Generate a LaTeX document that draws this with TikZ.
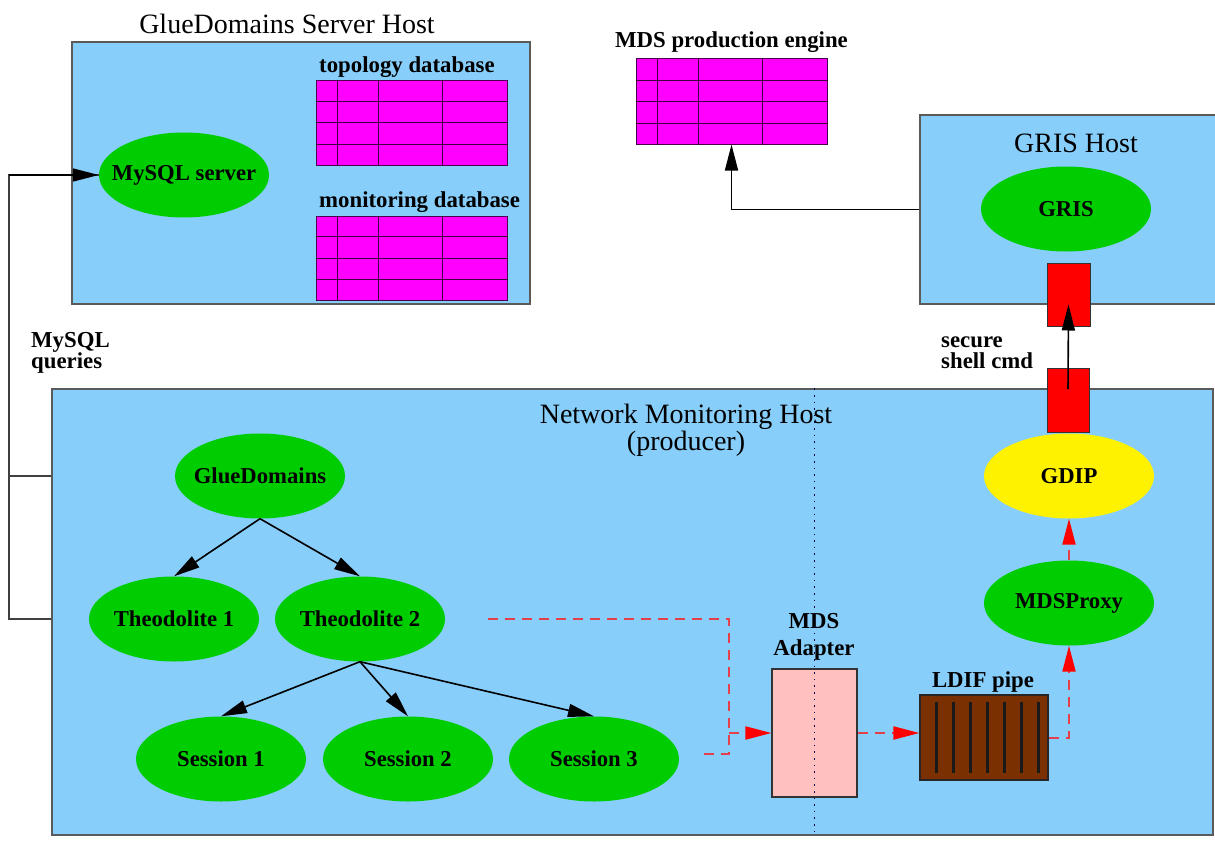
\documentclass[tikz,border=0pt]{standalone}
\usepackage{fontspec}
\setmainfont{Liberation Serif}
\usetikzlibrary{shapes.geometric,arrows.meta,calc}

\definecolor{hostblue}{RGB}{135,206,250}
\definecolor{procgreen}{RGB}{0,205,0}
\definecolor{tablemag}{RGB}{255,0,255}
\definecolor{adaptpink}{RGB}{255,192,192}
\definecolor{pipebrown}{RGB}{122,48,0}
\definecolor{edgegray}{RGB}{90,90,90}
\definecolor{flowred}{RGB}{228,64,76}

% process labels are centred in a zero-width box so every ellipse keeps the same size
\newcommand\proclabel[1]{\makebox[0pt][c]{#1}}

\tikzset{
  host/.style={draw=edgegray, line width=1.2pt, fill=hostblue, rectangle, inner sep=0},
  proc/.style={ellipse, fill=procgreen, minimum width=170, minimum height=85, inner sep=0,
               font=\fontsize{22.7}{22}\selectfont\bfseries},
  dbtab/.style={rectangle, draw=black!70!tablemag, line width=1pt, fill=tablemag,
                minimum width=191, minimum height=85, inner sep=0},
  gridline/.style={draw=black!75!tablemag, line width=1pt},
  hosttitle/.style={font=\fontsize{28}{27}\selectfont, inner sep=0},
  lbl/.style={font=\fontsize{22.8}{21}\selectfont\bfseries, inner sep=0},
  plug/.style={rectangle, fill=red, draw=black!80, line width=1pt, inner sep=0},
  wire/.style={draw=black!75, line width=1.5pt},
  arr/.style={draw=black, line width=1.6pt, -{Triangle[length=26pt,width=13pt]}},
  flow/.style={draw=flowred, line width=2pt, dash pattern=on 10pt off 7pt},
  flowarr/.style={flow, -{Triangle[length=26pt,width=13pt,color=red]}},
  divider/.style={draw=black!70!blue, line width=1.5pt, dash pattern=on 1.6pt off 5pt},
}

\begin{document}
\begin{tikzpicture}[x=1pt,y=-1pt]
\useasboundingbox (0,0) rectangle (1215,843);

% ---------------- GlueDomains server host ----------------
\node[host, minimum width=458, minimum height=262] (gshost) at (301,173) {};
\node[hosttitle] (gstitle) at (287,24) {GlueDomains Server Host};
\node[proc] (mysql) at (184,175) {\proclabel{MySQL server}};

\node[lbl, anchor=base west] (topolbl) at (319,72) {topology database};
\node[dbtab] (topo) at (411.5,122.5) {};
\node[lbl, anchor=base west] (monilbl) at (319,207) {monitoring database};
\node[dbtab, minimum height=84] (moni) at (411.5,258) {};

% ---------------- MDS production engine ----------------
\node[lbl, anchor=base west] (mdslbl) at (615,48) {MDS production engine};
\node[dbtab] (mds) at (731.5,101.5) {};

% table grids
\foreach \t in {topo,moni,mds}{
  \foreach \c in {22,63,127}
    \draw[gridline] ([xshift=\c]\t.north west) -- ([xshift=\c]\t.south west);
  \foreach \r in {0.25,0.5,0.75}
    \draw[gridline] ($(\t.north west)!\r!(\t.south west)$) -- ($(\t.north east)!\r!(\t.south east)$);
}

% ---------------- GRIS host ----------------
\node[host, minimum width=310, minimum height=189] (grishost) at (1075,209.5) {};
\node[hosttitle, anchor=base] (gristitle) at (1076,152) {GRIS Host};
\node[proc] (gris) at (1066,209) {\proclabel{GRIS}};

% ---------------- Network monitoring host ----------------
\node[host, minimum width=1161, minimum height=446] (nmhost) at (632.5,612) {};
\node[hosttitle, align=center, anchor=base] (nmtitle) at (686,450) {Network Monitoring Host\\(producer)};

\node[proc] (gd) at (260,476) {\proclabel{GlueDomains}};
\node[proc] (theo1) at (174,619) {\proclabel{Theodolite 1}};
\node[proc] (theo2) at (360,619) {\proclabel{Theodolite 2}};
\node[proc] (s1) at (221,759) {\proclabel{Session 1}};
\node[proc] (s2) at (408,759) {\proclabel{Session 2}};
\node[proc] (s3) at (594,759) {\proclabel{Session 3}};

\node[rectangle, draw=black!80, line width=1.2pt, fill=adaptpink, minimum width=85,
      minimum height=128, inner sep=0] (adapter) at (814.5,733) {};
\node[lbl, align=center, font=\fontsize{22.8}{27}\selectfont\bfseries, anchor=base]
      (adaptlbl) at (814,655) {MDS\\Adapter};

\node[rectangle, draw=black!85, line width=1.2pt, fill=pipebrown, minimum width=128,
      minimum height=85, inner sep=0] (ldif) at (984,737.5) {};
\node[lbl, anchor=base] (ldiflbl) at (983,687) {LDIF pipe};
\foreach \k in {1,...,7}
  \draw[draw=black!90, line width=2.2pt]
    ([xshift=17*\k, yshift=-8]ldif.north west) -- ([xshift=17*\k, yshift=8]ldif.south west);

\node[proc] (proxy) at (1069,603) {\proclabel{MDSProxy}};
\node[proc, fill=yellow] (gdip) at (1069,476) {\proclabel{GDIP}};

% secure shell link between the hosts
\node[plug, minimum width=43, minimum height=63] (plugtop) at (1068.5,294.5) {};
\node[plug, minimum width=42, minimum height=64] (plugbot) at (1068,400.5) {};
\draw[arr] ([yshift=-21]plugbot.north) -- ([yshift=-42]plugtop.north);
\node[lbl, align=left, anchor=base west] (ssh) at (941,368) {secure\\shell cmd};

% ---------------- connectors ----------------
\draw[arr] (grishost.west) -| (mds.south);

\coordinate (q1) at (nmhost.west |- gd);
\coordinate (q2) at (nmhost.west |- theo1);
\coordinate (qbus) at (9,619);
\draw[wire] (q1) -- (q1 -| qbus);
\draw[wire] (q2) -- (qbus) |- (mysql.west);
\draw[arr] (mysql.west -| qbus) -- (mysql.west);
\node[lbl, align=left, anchor=base west] (qlbl) at (31,368) {MySQL\\queries};

\draw[arr] (gd.south) -- (theo1.north);
\draw[arr] (gd.south) -- (theo2.north);
\draw[arr] (theo2.south) -- (s1.north);
\draw[arr] (theo2.south) -- (s2.north);
\draw[arr] (theo2.south) -- (s3.north);

\coordinate (t2out) at (488,619);
\coordinate (s3out) at (700,754);
\coordinate (merge) at (729,733);
\draw[flow] (t2out) -| (merge |- s3out) -- (s3out);
\draw[flowarr] (merge) -- (adapter.west);
\draw[flowarr] (adapter.east) -- (adapter.east -| ldif.west);
\draw[flowarr] (ldif.east) -| (proxy.south);
\draw[flowarr] (proxy.north) -- (gdip.south);

% producer / adapter boundary
\draw[divider] (nmhost.north -| adapter) -- (nmhost.south -| adapter);
\end{tikzpicture}
\end{document}
